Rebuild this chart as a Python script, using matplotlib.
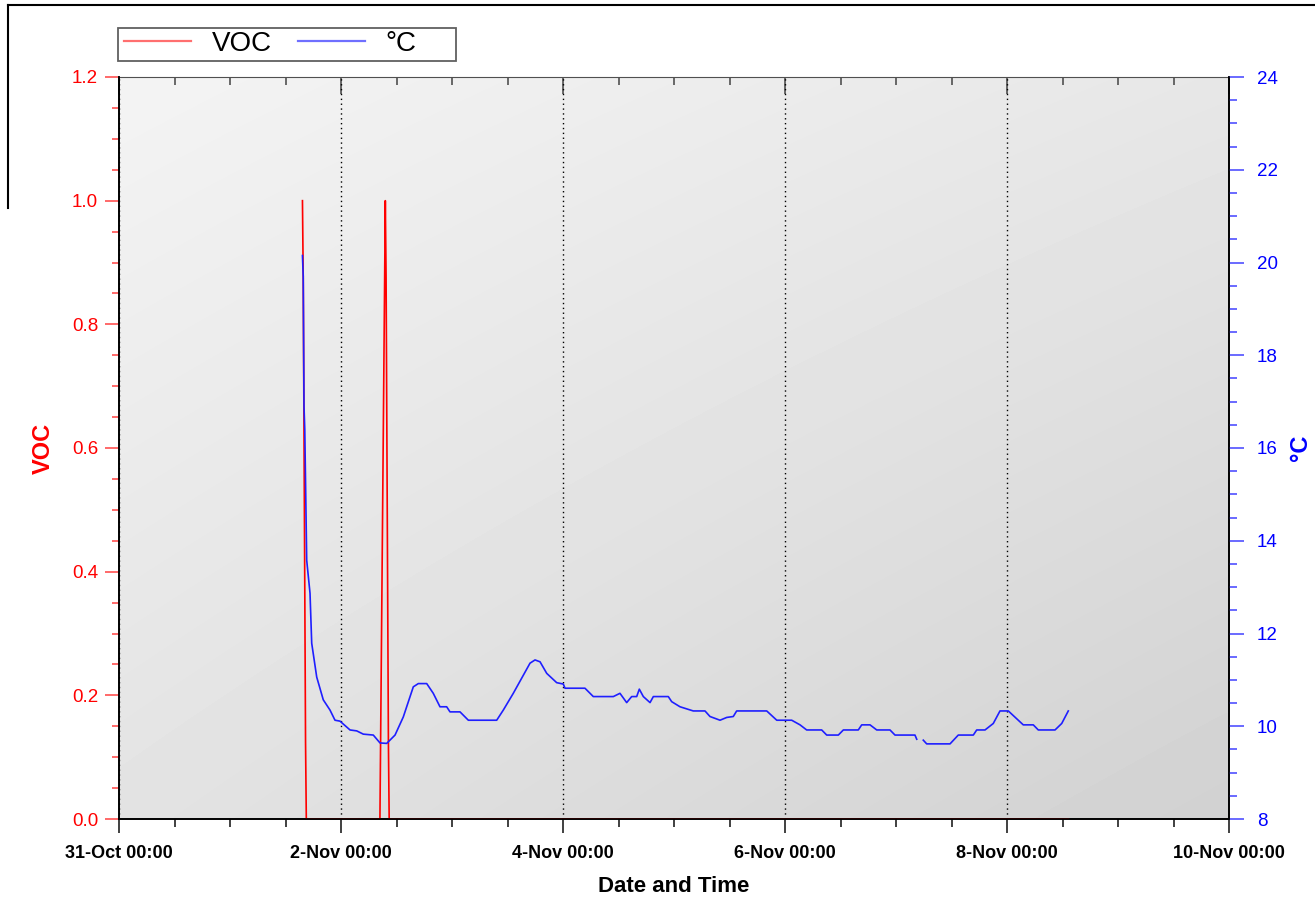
import matplotlib
matplotlib.use('Agg')
import matplotlib.pyplot as plt
import matplotlib.dates as mdates
from matplotlib.lines import Line2D
from matplotlib.patches import Rectangle
from matplotlib.ticker import MultipleLocator, FuncFormatter
import numpy as np
import pandas as pd

plt.rcParams['font.family'] = ['Liberation Sans', 'DejaVu Sans']

# VOC readings (logger units)
voc_time = ['2006-11-01 15:40', '2006-11-01 15:50', '2006-11-01 16:00', '2006-11-01 16:10',
            '2006-11-01 16:20', '2006-11-01 16:30',
            '2006-11-02 08:25', '2006-11-02 09:35', '2006-11-02 09:45', '2006-11-02 09:55',
            '2006-11-02 10:05', '2006-11-02 10:15', '2006-11-02 10:25',
            '2006-11-08 13:15']
voc_vals = [1.0, 0.875, 0.625, 0.375, 0.125, 0.0,
            0.0, 1.0, 0.875, 0.625, 0.375, 0.125, 0.0,
            0.0]

# temperature readings, deg C
temp_time = ['2006-11-01 15:40', '2006-11-01 15:50', '2006-11-01 16:00', '2006-11-01 16:10',
             '2006-11-01 16:35', '2006-11-01 17:18', '2006-11-01 17:40', '2006-11-01 18:45',
             '2006-11-01 20:10', '2006-11-01 21:37', '2006-11-01 22:42', '2006-11-01 23:47',
             '2006-11-02 01:57', '2006-11-02 03:24', '2006-11-02 04:49', '2006-11-02 06:59',
             '2006-11-02 08:26', '2006-11-02 09:53', '2006-11-02 11:41', '2006-11-02 13:28',
             '2006-11-02 15:38', '2006-11-02 16:43', '2006-11-02 18:32', '2006-11-02 19:57',
             '2006-11-02 21:24', '2006-11-02 22:51', '2006-11-02 23:34',
             '2006-11-03 01:44', '2006-11-03 03:32', '2006-11-03 09:40', '2006-11-03 11:06',
             '2006-11-03 13:15', '2006-11-03 16:52', '2006-11-03 17:57', '2006-11-03 19:02',
             '2006-11-03 20:29', '2006-11-03 22:38',
             '2006-11-04 00:04', '2006-11-04 00:26', '2006-11-04 04:45', '2006-11-04 06:33',
             '2006-11-04 10:53', '2006-11-04 12:19', '2006-11-04 13:46', '2006-11-04 14:51',
             '2006-11-04 15:56', '2006-11-04 16:30', '2006-11-04 17:22', '2006-11-04 18:49',
             '2006-11-04 19:32', '2006-11-04 22:46', '2006-11-04 23:30',
             '2006-11-05 01:18', '2006-11-05 04:10', '2006-11-05 06:42', '2006-11-05 07:47',
             '2006-11-05 09:57', '2006-11-05 11:24', '2006-11-05 12:49', '2006-11-05 13:33',
             '2006-11-05 20:03', '2006-11-05 22:13',
             '2006-11-06 01:27', '2006-11-06 03:15', '2006-11-06 04:41', '2006-11-06 07:56',
             '2006-11-06 09:01', '2006-11-06 11:32', '2006-11-06 12:37', '2006-11-06 15:51',
             '2006-11-06 16:35', '2006-11-06 18:23', '2006-11-06 19:50', '2006-11-06 22:42',
             '2006-11-06 23:47',
             '2006-11-07 04:06', '2006-11-07 04:29', '2006-11-07 05:10', '2006-11-07 05:54',
             '2006-11-07 06:38', '2006-11-07 11:41', '2006-11-07 13:28', '2006-11-07 16:43',
             '2006-11-07 17:27', '2006-11-07 19:15', '2006-11-07 21:02', '2006-11-07 22:29',
             '2006-11-08 00:17', '2006-11-08 03:31', '2006-11-08 05:41', '2006-11-08 06:46',
             '2006-11-08 10:23', '2006-11-08 11:50', '2006-11-08 13:15']
temp_vals = [20.15, 19.7, 16.9, 16.4,
             13.58, 12.87, 11.79, 11.06,
             10.57, 10.35, 10.13, 10.11,
             9.92, 9.9, 9.83, 9.81,
             9.64, 9.63, 9.81, 10.2,
             10.85, 10.92, 10.92, 10.71,
             10.42, 10.42, 10.31,
             10.31, 10.13, 10.13, 10.35,
             10.71, 11.36, 11.43, 11.39,
             11.14, 10.94,
             10.91, 10.82, 10.82, 10.64,
             10.64, 10.71, 10.51, 10.64,
             10.64, 10.8, 10.64, 10.51,
             10.64, 10.64, 10.53,
             10.42, 10.33, 10.33, 10.21,
             10.13, 10.19, 10.21, 10.33,
             10.33, 10.13,
             10.13, 10.03, 9.92, 9.92,
             9.81, 9.81, 9.92, 9.92,
             10.03, 10.03, 9.92, 9.92,
             9.81,
             9.81, 9.72, np.nan, 9.70,
             9.62, 9.62, 9.81, 9.81,
             9.92, 9.92, 10.06, 10.33,
             10.33, 10.03, 10.03, 9.92,
             9.92, 10.06, 10.33]

x_start = pd.Timestamp('2006-10-31 00:00')
x_end = pd.Timestamp('2006-11-10 00:00')

W, H = 1315, 916
fig = plt.figure(figsize=(W / 100, H / 100), dpi=100)
ax = fig.add_axes([119 / W, 1 - 819 / H, 1110 / W, 742 / H])

# shaded plot background, light at top left, darker towards bottom right
u = np.linspace(0, 1, 200)
v = np.linspace(0, 1, 200)
U, V = np.meshgrid(u, v)
shade = 0.955 - 0.05 * U - 0.065 * V - 0.02 * U * V
ax.imshow(shade, cmap='gray', vmin=0, vmax=1, extent=(0, 1, 0, 1), origin='upper',
          transform=ax.transAxes, aspect='auto', zorder=0, interpolation='bilinear')

vt = pd.to_datetime(voc_time)
tt = pd.to_datetime(temp_time)

ax.plot(vt, voc_vals, color='#ff0000', lw=1.2, zorder=3)
ax.set_xlim(x_start, x_end)
ax.set_ylim(0, 1.2)

ax2 = ax.twinx()
ax2.plot(tt, temp_vals, color='#1f1fff', lw=1.2, zorder=3)
ax2.set_ylim(8, 24)

# x axis: labels every 2 days, ticks every 12 h
ax.xaxis.set_major_locator(mdates.DayLocator(interval=2, bymonthday=[31, 2, 4, 6, 8, 10]))
ax.xaxis.set_minor_locator(mdates.HourLocator(byhour=[0, 12]))
def day_fmt(val, pos):
    d = mdates.num2date(val)
    return '%d-%s' % (d.day, d.strftime('%b %H:%M'))
ax.xaxis.set_major_formatter(FuncFormatter(day_fmt))
ax.tick_params(axis='x', which='major', length=10, width=1.2, color='#202020', pad=9,
               labelsize=13, labelcolor='black')
ax.tick_params(axis='x', which='minor', length=6, width=1.2, color='#202020')
for lbl in ax.get_xticklabels():
    lbl.set_fontweight('bold')
ax.grid(axis='x', which='major', color='black', linestyle=(0, (1, 2.5)), lw=1)

top = ax.secondary_xaxis('top')
top.xaxis.set_major_locator(mdates.DayLocator(interval=2, bymonthday=[31, 2, 4, 6, 8, 10]))
top.xaxis.set_minor_locator(mdates.HourLocator(byhour=[0, 12]))
top.tick_params(which='major', direction='in', length=12, width=1.2, color='#505050', labeltop=False)
top.tick_params(which='minor', direction='in', length=6, width=1.2, color='#505050')
top.spines['top'].set_color('#505050')

# left axis, VOC
ax.yaxis.set_major_locator(MultipleLocator(0.2))
ax.yaxis.set_minor_locator(MultipleLocator(0.05))
ax.yaxis.set_major_formatter(FuncFormatter(lambda y, p: '%.1f' % y))
ax.tick_params(axis='y', which='major', length=10, width=1.2, color='#ff5050', pad=5,
               labelsize=13.5, labelcolor='#ff0000')
ax.tick_params(axis='y', which='minor', length=5, width=1.2, color='#ff5050')
ax.set_ylabel('VOC', color='#ff0000', fontsize=17, fontweight='bold', labelpad=12)

# right axis, temperature
ax2.yaxis.set_major_locator(MultipleLocator(2))
ax2.yaxis.set_minor_locator(MultipleLocator(0.5))
ax2.tick_params(axis='y', which='major', length=11, width=1.2, color='#5050ff', pad=9,
                labelsize=13.5, labelcolor='#0000ff')
ax2.tick_params(axis='y', which='minor', length=6, width=1.2, color='#5050ff')
ax2.set_ylabel('°C', color='#0000ff', fontsize=17, fontweight='bold', rotation=90, labelpad=8)

ax.set_xlabel('Date and Time', fontsize=16, fontweight='bold', labelpad=10)

for a in (ax, ax2):
    a.spines['left'].set_color('black')
    a.spines['bottom'].set_color('black')
    a.spines['right'].set_color('black')
    a.spines['top'].set_visible(False)
    for s in a.spines.values():
        s.set_linewidth(1.2)

# legend with its own box
fig.patches.append(Rectangle((118 / W, 1 - 61 / H), 338 / W, 33 / H, transform=fig.transFigure,
                             facecolor='white', edgecolor='#606060', lw=1.3))
handles = [Line2D([], [], color='#ff6f6f', lw=1.6), Line2D([], [], color='#6f6fff', lw=1.6)]
fig.legend(handles, ['VOC', '°C'], loc='center left', bbox_to_anchor=(124 / W, 1 - 44 / H),
           ncol=2, fontsize=20, frameon=False, handlelength=2.4, handletextpad=0.75,
           columnspacing=0.95, borderaxespad=0, borderpad=0)

# outer frame lines
fig.add_artist(Line2D([8 / W, 1], [1 - 4.5 / H, 1 - 4.5 / H], transform=fig.transFigure,
                      color='black', lw=1.5))
fig.add_artist(Line2D([8 / W, 8 / W], [1 - 4.5 / H, 1 - 208 / H], transform=fig.transFigure,
                      color='black', lw=1.5))

plt.savefig('out.png', dpi=100)
